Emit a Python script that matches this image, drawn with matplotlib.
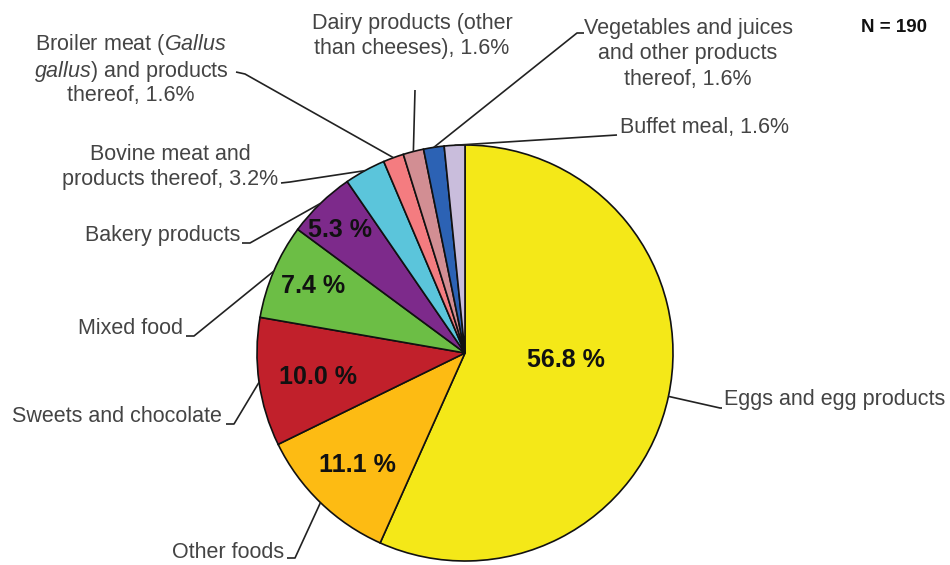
import matplotlib
matplotlib.use("Agg")
import matplotlib.pyplot as plt
import numpy as np

plt.rcParams['font.family'] = ['Liberation Sans', 'DejaVu Sans']
plt.rcParams['mathtext.fontset'] = 'custom'
plt.rcParams['mathtext.rm'] = 'Liberation Sans'
plt.rcParams['mathtext.it'] = 'Liberation Sans:italic'

categories = [
    "Eggs and egg products",
    "Other foods",
    "Sweets and chocolate",
    "Mixed food",
    "Bakery products",
    "Bovine meat and\nproducts thereof, 3.2%",
    "Broiler meat ($\\it{Gallus}$\n$\\it{gallus}$) and products\nthereof, 1.6%",
    "Dairy products (other\nthan cheeses), 1.6%",
    "Vegetables and juices\nand other products\nthereof, 1.6%",
    "Buffet meal, 1.6%",
]
values = [56.8, 11.1, 10.0, 7.4, 5.3, 3.2, 1.6, 1.6, 1.6, 1.6]
inner_labels = ["56.8 %", "11.1 %", "10.0 %", "7.4 %", "5.3 %", None, None, None, None, None]
colors = ['#F4E818', '#FDBB13', '#C1202B', '#6CBE45', '#7D2A8B',
          '#5BC5DB', '#F47C80', '#D28E93', '#2C62B4', '#C9BDDC']

W, H = 950, 565
fig = plt.figure(figsize=(9.5, 5.65), dpi=100)
ax = fig.add_axes([0, 0, 1, 1])

cx, cy, R = 465, H - 353, 208
wedges, _ = ax.pie(values, colors=colors, startangle=90, counterclock=False,
                   radius=R, center=(cx, cy),
                   wedgeprops=dict(edgecolor='#111111', linewidth=1.2))
ax.set_xlim(0, W)
ax.set_ylim(0, H)
ax.set_aspect('equal')
ax.axis('off')

def py(y):
    return H - y

# inner percentage label positions (pixels, y down)
inner_pos = [(566, 360), (357, 465), (318, 377), (313, 286), (340, 230)]
for lab, (x, y) in zip(inner_labels, inner_pos):
    if lab:
        ax.text(x, py(y), lab, ha='center', va='center', fontsize=18,
                fontweight='bold', color='#111111')

# outer labels: (elbow, end, text pos, ha, linespacing)
layout = [
    ((720, 408), (722, 408), (724, 400), 'left', 1.3),
    ((295, 558), (287, 558), (284, 552), 'right', 1.3),
    ((234, 424), (226, 424), (222, 417), 'right', 1.3),
    ((194, 336), (186, 336), (183, 329), 'right', 1.3),
    ((250, 243), (242, 243), (240, 236), 'right', 1.3),
    ((290, 182), (281, 183), (170, 167), 'center', 1.3),
    ((245, 74), (236, 72), (131, 69), 'center', 1.1),
    ((415, 90), (415, 90), (412, 36), 'center', 1.3),
    ((577, 33), (584, 33), (688, 54), 'center', 1.3),
    ((617, 135), (617, 135), (620, 128), 'left', 1.3),
]
tcol = '#444444'
for w, lab, (elb, end, tp, ha, ls) in zip(wedges, categories, layout):
    th = np.deg2rad((w.theta1 + w.theta2) / 2)
    ex, ey = cx + R * np.cos(th), cy + R * np.sin(th)
    ax.plot([ex, elb[0], end[0]], [ey, py(elb[1]), py(end[1])],
            color='#222222', lw=1.2, solid_capstyle='butt')
    ax.text(tp[0], py(tp[1]), lab, ha=ha, va='center', fontsize=15.5,
            color=tcol, multialignment='center', linespacing=ls)

ax.text(894, py(28), "N = 190", ha='center', va='center', fontsize=13.5,
        fontweight='bold', color='#111111')

fig.savefig("out.png", dpi=100)
